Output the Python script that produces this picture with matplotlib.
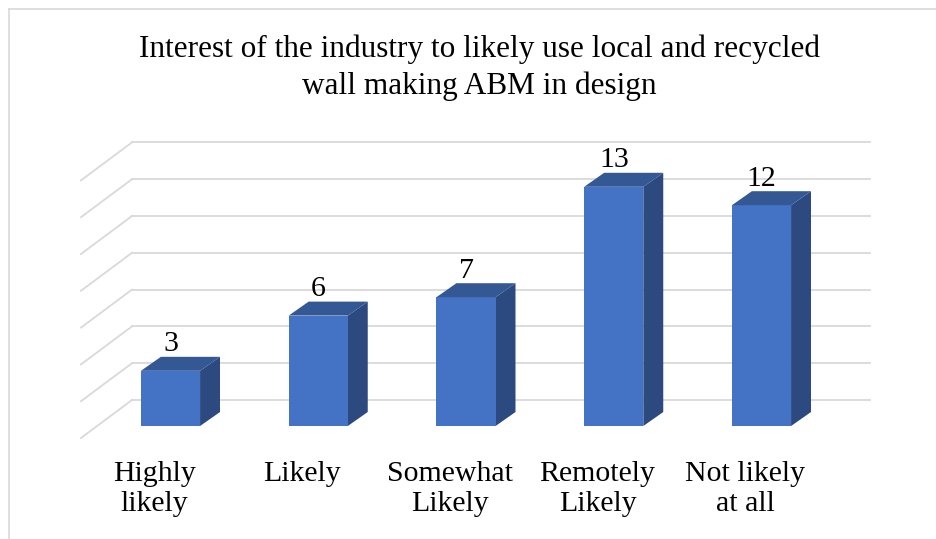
import numpy as np
import matplotlib.pyplot as plt
from matplotlib.patches import Polygon
from matplotlib.lines import Line2D

categories = ['Highly\nlikely', 'Likely', 'Somewhat\nLikely', 'Remotely\nLikely', 'Not likely\nat all']
values = [3, 6, 7, 13, 12]
grid_levels = np.arange(0, 16, 2)
title = 'Interest of the industry to likely use local and recycled\nwall making ABM in design'

front_c = '#4472C4'
side_c = '#2C4A80'
top_c = '#335894'
grid_c = '#d9d9d9'

plt.rcParams['font.family'] = ['Liberation Serif', 'DejaVu Serif']

fig = plt.figure(figsize=(9.36, 5.39), dpi=100)
ax = fig.add_axes([0, 0, 1, 1])
ax.set_xlim(-1.154, 5.181)
ax.set_ylim(-6.14, 23.15)
ax.axis('off')

# fake 3d geometry
w = 0.4          # bar width
dx, dy = 0.135, 0.76   # bar depth offset
back = 1.413     # back wall offset
wall_l, wall_r = -0.2606, 4.734
floor_x, floor_dy = -0.606, -0.652

for g in grid_levels:
    ax.plot([wall_l, wall_r], [g + back, g + back], color=grid_c, lw=1.3, zorder=1)
    ax.plot([floor_x, wall_l], [g + floor_dy, g + back], color=grid_c, lw=1.3, zorder=1)

x = np.arange(len(values))
ax.bar(x, values, width=w, color=front_c, zorder=3)
for i, v in zip(x, values):
    r = i + w / 2
    l = i - w / 2
    ax.add_patch(Polygon([(r, 0), (r + dx, dy), (r + dx, v + dy), (r, v)],
                         closed=True, facecolor=side_c, edgecolor='none', zorder=2))
    ax.add_patch(Polygon([(l, v), (l + dx, v + dy), (r + dx, v + dy), (r, v)],
                         closed=True, facecolor=top_c, edgecolor='none', zorder=4))
    ax.text(i, v + 1.45, str(v), ha='center', va='center', fontsize=21.5, zorder=5)

for i, c in zip(x, categories):
    ax.text(i - 0.11, -1.9, c, ha='center', va='top', fontsize=21.5, linespacing=1.22)

fig.text(0.512, 1 - 35 / 539, title, ha='center', va='top', fontsize=22.5, linespacing=1.3)

# chart frame (top and left edges visible)
fig.add_artist(Line2D([8.5 / 936, 1], [1 - 8.5 / 539] * 2, color=grid_c, lw=1.2))
fig.add_artist(Line2D([8.5 / 936] * 2, [0, 1 - 8.5 / 539], color=grid_c, lw=1.2))

fig.savefig('out.png', dpi=100)
